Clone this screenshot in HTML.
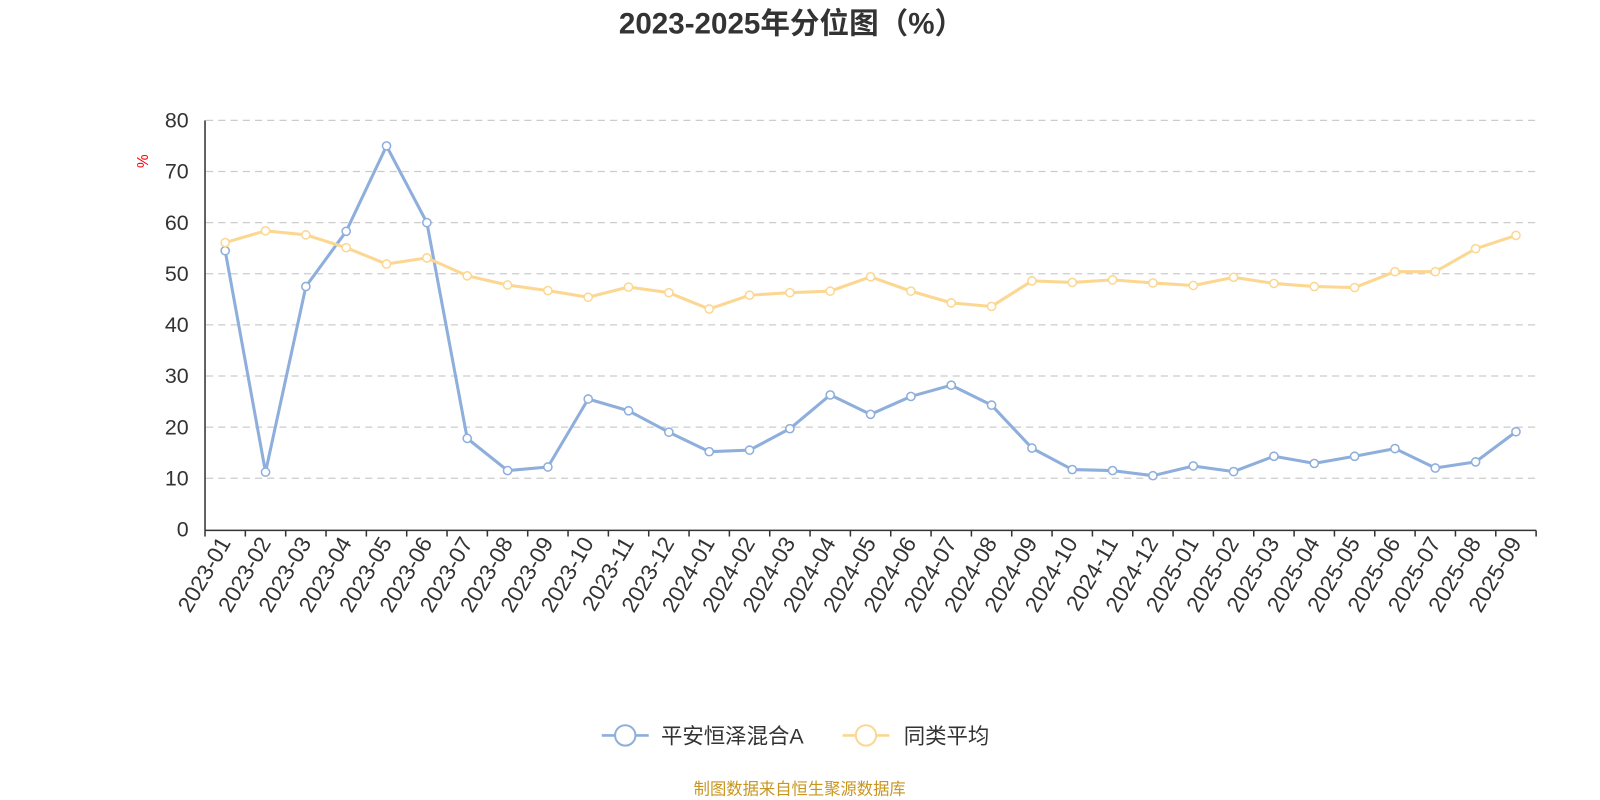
<!DOCTYPE html>
<html><head><meta charset="utf-8"><style>
body{margin:0;background:#fff;}
svg{display:block;font-family:"Liberation Sans","Noto Sans CJK SC",sans-serif;}
</style></head><body>
<svg width="1600" height="800" xmlns="http://www.w3.org/2000/svg">
<g transform="scale(1.02)">
<text x="776" y="33" text-anchor="middle" font-size="29" font-weight="bold" fill="#333">2023-2025年分位图（%）</text>
<g id="grid" stroke="#ccc" stroke-dasharray="7,5" stroke-width="1.3"></g>
<g id="ylab" font-size="21" fill="#333" text-anchor="end"></g>
<text transform="translate(145,158) rotate(-90)" font-size="15" fill="red" text-anchor="middle">%</text>
<line x1="201" y1="118" x2="201" y2="520" stroke="#333" stroke-width="1.5"/>
<line x1="201" y1="520" x2="1506" y2="520" stroke="#333" stroke-width="1.5"/>
<g id="xt" stroke="#333" stroke-width="1.5"></g>
<g id="xl" font-size="22" fill="#333" text-anchor="end"></g>
<polyline id="pb" fill="none" stroke="#8eaedb" stroke-width="3" stroke-linejoin="round"/>
<polyline id="po" fill="none" stroke="#fcd791" stroke-width="3" stroke-linejoin="round"/>
<g id="cb" fill="#fff" stroke="#8eaedb" stroke-width="1.5"></g>
<g id="co" fill="#fff" stroke="#fcd791" stroke-width="1.5"></g>
<line x1="590" y1="721" x2="636" y2="721" stroke="#8eaedb" stroke-width="2.5"/>
<circle cx="613" cy="721" r="10" fill="#fff" stroke="#8eaedb" stroke-width="2"/>
<text x="648" y="729" font-size="21" fill="#333">平安恒泽混合A</text>
<line x1="826" y1="721" x2="872" y2="721" stroke="#fcd791" stroke-width="2.5"/>
<circle cx="849" cy="721" r="10" fill="#fff" stroke="#fcd791" stroke-width="2"/>
<text x="886" y="729" font-size="21" fill="#333">同类平均</text>
<text x="784" y="779" font-size="16" fill="#c8961e" text-anchor="middle">制图数据来自恒生聚源数据库</text>
</g>
</svg>
<script>
const NS="http://www.w3.org/2000/svg";
function el(p,t,a,txt){const e=document.createElementNS(NS,t);for(const k in a)e.setAttribute(k,a[k]);if(txt!==undefined)e.textContent=txt;document.getElementById(p).appendChild(e);}
const Y=v=>519-v*5.0125;
for(let v=0;v<=80;v+=10){if(v>0)el("grid","line",{x1:202,x2:1506,y1:Y(v),y2:Y(v)});el("ylab","text",{x:185,y:Y(v)+7},String(v));}
const labs=[];for(let y=2023;y<=2025;y++)for(let m=1;m<=12;m++){if(y==2025&&m>9)break;labs.push(y+"-"+String(m).padStart(2,"0"));}
const bw=1305/33;
for(let i=0;i<=33;i++)el("xt","line",{x1:201+i*bw,x2:201+i*bw,y1:520,y2:526});
const X=i=>201+bw/2+i*bw;
labs.forEach((l,i)=>el("xl","text",{transform:`translate(${X(i)+6},532) rotate(-60)`},l));
const b=[54.5,11.2,47.5,58.3,75,60,17.8,11.5,12.2,25.5,23.2,19,15.2,15.5,19.7,26.3,22.5,26,28.2,24.3,15.9,11.7,11.5,10.5,12.4,11.3,14.3,12.9,14.3,15.8,12,13.2,19.1];
const o=[56.1,58.4,57.6,55.1,51.9,53.1,49.6,47.8,46.7,45.4,47.4,46.3,43.1,45.8,46.3,46.6,49.4,46.6,44.3,43.6,48.6,48.3,48.8,48.2,47.7,49.3,48.1,47.5,47.3,50.4,50.4,54.9,57.5];
document.getElementById("pb").setAttribute("points",b.map((v,i)=>X(i)+","+Y(v)).join(" "));
document.getElementById("po").setAttribute("points",o.map((v,i)=>X(i)+","+Y(v)).join(" "));
b.forEach((v,i)=>el("cb","circle",{cx:X(i),cy:Y(v),r:4}));
o.forEach((v,i)=>el("co","circle",{cx:X(i),cy:Y(v),r:4}));
</script>
</body></html>
